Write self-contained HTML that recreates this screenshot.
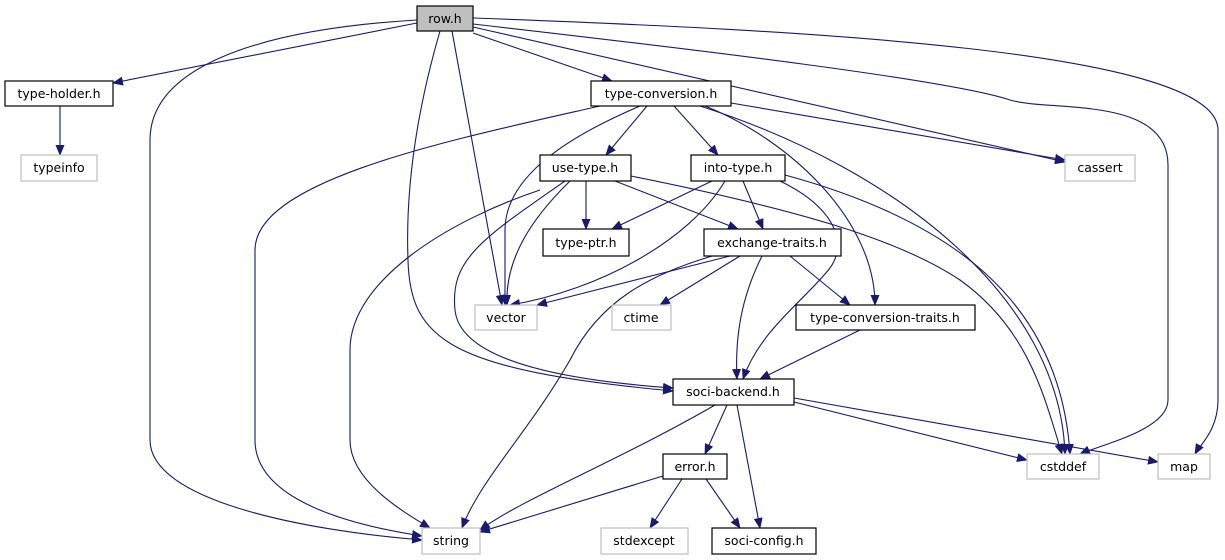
<!DOCTYPE html>
<html><head><meta charset="utf-8"><style>
html,body{margin:0;padding:0;background:#fff;}
svg{display:block;}
text{font-family:"DejaVu Sans","Liberation Sans",sans-serif;font-size:12.5px;fill:#000;}
</style></head><body>
<svg width="1225" height="560" viewBox="0 0 1225 560" xmlns="http://www.w3.org/2000/svg">
<defs>
<marker id="a" markerWidth="11" markerHeight="9" refX="10" refY="4.5" orient="auto" markerUnits="userSpaceOnUse">
<polygon points="0,0 11,4.5 0,9" fill="#191970"/>
</marker>
</defs>
<g fill="none" stroke="#191970" stroke-width="1.1" marker-end="url(#a)">
<path d="M417,23 L113,83"/>
<path d="M417,20 C250,30 150,70 150,140 L150,440 C150,500 300,530 422,540"/>
<path d="M452,31 L502,305"/>
<path d="M440,31 C420,100 405,180 408,260 C410,340 450,370 673,391"/>
<path d="M473,33 L612,81"/>
<path d="M473,27 L1065,162"/>
<path d="M473,24 C700,50 950,80 1010,100 C1050,112 1168,95 1168,165 L1168,400 C1168,430 1100,445 1080,454"/>
<path d="M473,18 C800,30 1218,50 1218,130 L1218,400 C1218,430 1200,445 1195,454"/>
<path d="M60,106 L60,155"/>
<path d="M600,106 C450,140 255,180 255,250 L255,440 C255,500 350,525 422,536"/>
<path d="M640,106 C560,140 505,180 505,230 L505,305"/>
<path d="M647,106 L606,155"/>
<path d="M674,106 L718,155"/>
<path d="M731,103 L1065,160"/>
<path d="M705,106 C790,140 875,220 875,305"/>
<path d="M700,106 C900,170 1060,300 1065,454"/>
<path d="M586,181 L586,229"/>
<path d="M615,181 L738,229"/>
<path d="M570,181 C530,220 505,260 507,305"/>
<path d="M540,190 C450,220 350,280 350,350 L350,440 C350,480 400,510 430,528"/>
<path d="M565,181 C480,240 450,260 455,310 C460,360 560,380 673,388"/>
<path d="M631,176 C800,210 900,240 960,280 C1030,330 1045,400 1062,454"/>
<path d="M712,181 L612,229"/>
<path d="M743,181 L763,229"/>
<path d="M725,181 C690,240 600,290 510,305"/>
<path d="M780,181 C830,205 850,240 830,268 C805,300 760,330 743,379"/>
<path d="M785,175 C950,220 1060,300 1070,454"/>
<path d="M730,256 L537,305"/>
<path d="M712,256 C650,275 600,300 570,360 C530,430 480,480 462,528"/>
<path d="M740,256 L660,305"/>
<path d="M762,256 C740,300 735,340 737,379"/>
<path d="M790,256 L850,305"/>
<path d="M860,330 L760,379"/>
<path d="M715,405 C620,460 520,500 480,530"/>
<path d="M727,405 L705,454"/>
<path d="M737,405 L760,528"/>
<path d="M794,402 L1027,460"/>
<path d="M794,398 L1158,462"/>
<path d="M663,476 L480,532"/>
<path d="M682,479 L650,528"/>
<path d="M706,479 L740,528"/>
</g>
<g stroke-width="1.2">
<rect x="417" y="6" width="56" height="25" fill="#bfbfbf" stroke="#000"/>
<rect x="5" y="81" width="108" height="25" fill="#fff" stroke="#000"/>
<rect x="21" y="155" width="76" height="26" fill="#fff" stroke="#bfbfbf"/>
<rect x="591" y="81" width="140" height="25" fill="#fff" stroke="#000"/>
<rect x="540" y="155" width="91" height="26" fill="#fff" stroke="#000"/>
<rect x="691" y="155" width="94" height="26" fill="#fff" stroke="#000"/>
<rect x="1065" y="155" width="70" height="26" fill="#fff" stroke="#bfbfbf"/>
<rect x="543" y="229" width="86" height="27" fill="#fff" stroke="#000"/>
<rect x="704" y="229" width="137" height="27" fill="#fff" stroke="#000"/>
<rect x="475" y="305" width="62" height="25" fill="#fff" stroke="#bfbfbf"/>
<rect x="612" y="305" width="59" height="25" fill="#fff" stroke="#bfbfbf"/>
<rect x="796" y="305" width="179" height="25" fill="#fff" stroke="#000"/>
<rect x="673" y="379" width="121" height="26" fill="#fff" stroke="#000"/>
<rect x="663" y="454" width="64" height="25" fill="#fff" stroke="#000"/>
<rect x="1027" y="454" width="72" height="25" fill="#fff" stroke="#bfbfbf"/>
<rect x="1158" y="454" width="52" height="25" fill="#fff" stroke="#bfbfbf"/>
<rect x="422" y="528" width="58" height="26" fill="#fff" stroke="#bfbfbf"/>
<rect x="601" y="528" width="87" height="26" fill="#fff" stroke="#bfbfbf"/>
<rect x="712" y="528" width="104" height="26" fill="#fff" stroke="#000"/>
</g>
<g text-anchor="middle">
<text x="445" y="23">row.h</text>
<text x="59" y="98">type-holder.h</text>
<text x="59" y="172">typeinfo</text>
<text x="661" y="98">type-conversion.h</text>
<text x="585" y="172">use-type.h</text>
<text x="738" y="172">into-type.h</text>
<text x="1100" y="172">cassert</text>
<text x="586" y="247">type-ptr.h</text>
<text x="772" y="247">exchange-traits.h</text>
<text x="506" y="322">vector</text>
<text x="641" y="322">ctime</text>
<text x="885" y="322">type-conversion-traits.h</text>
<text x="733" y="396">soci-backend.h</text>
<text x="695" y="471">error.h</text>
<text x="1063" y="471">cstddef</text>
<text x="1184" y="471">map</text>
<text x="451" y="545">string</text>
<text x="644" y="545">stdexcept</text>
<text x="764" y="545">soci-config.h</text>
</g>
</svg>
</body></html>
